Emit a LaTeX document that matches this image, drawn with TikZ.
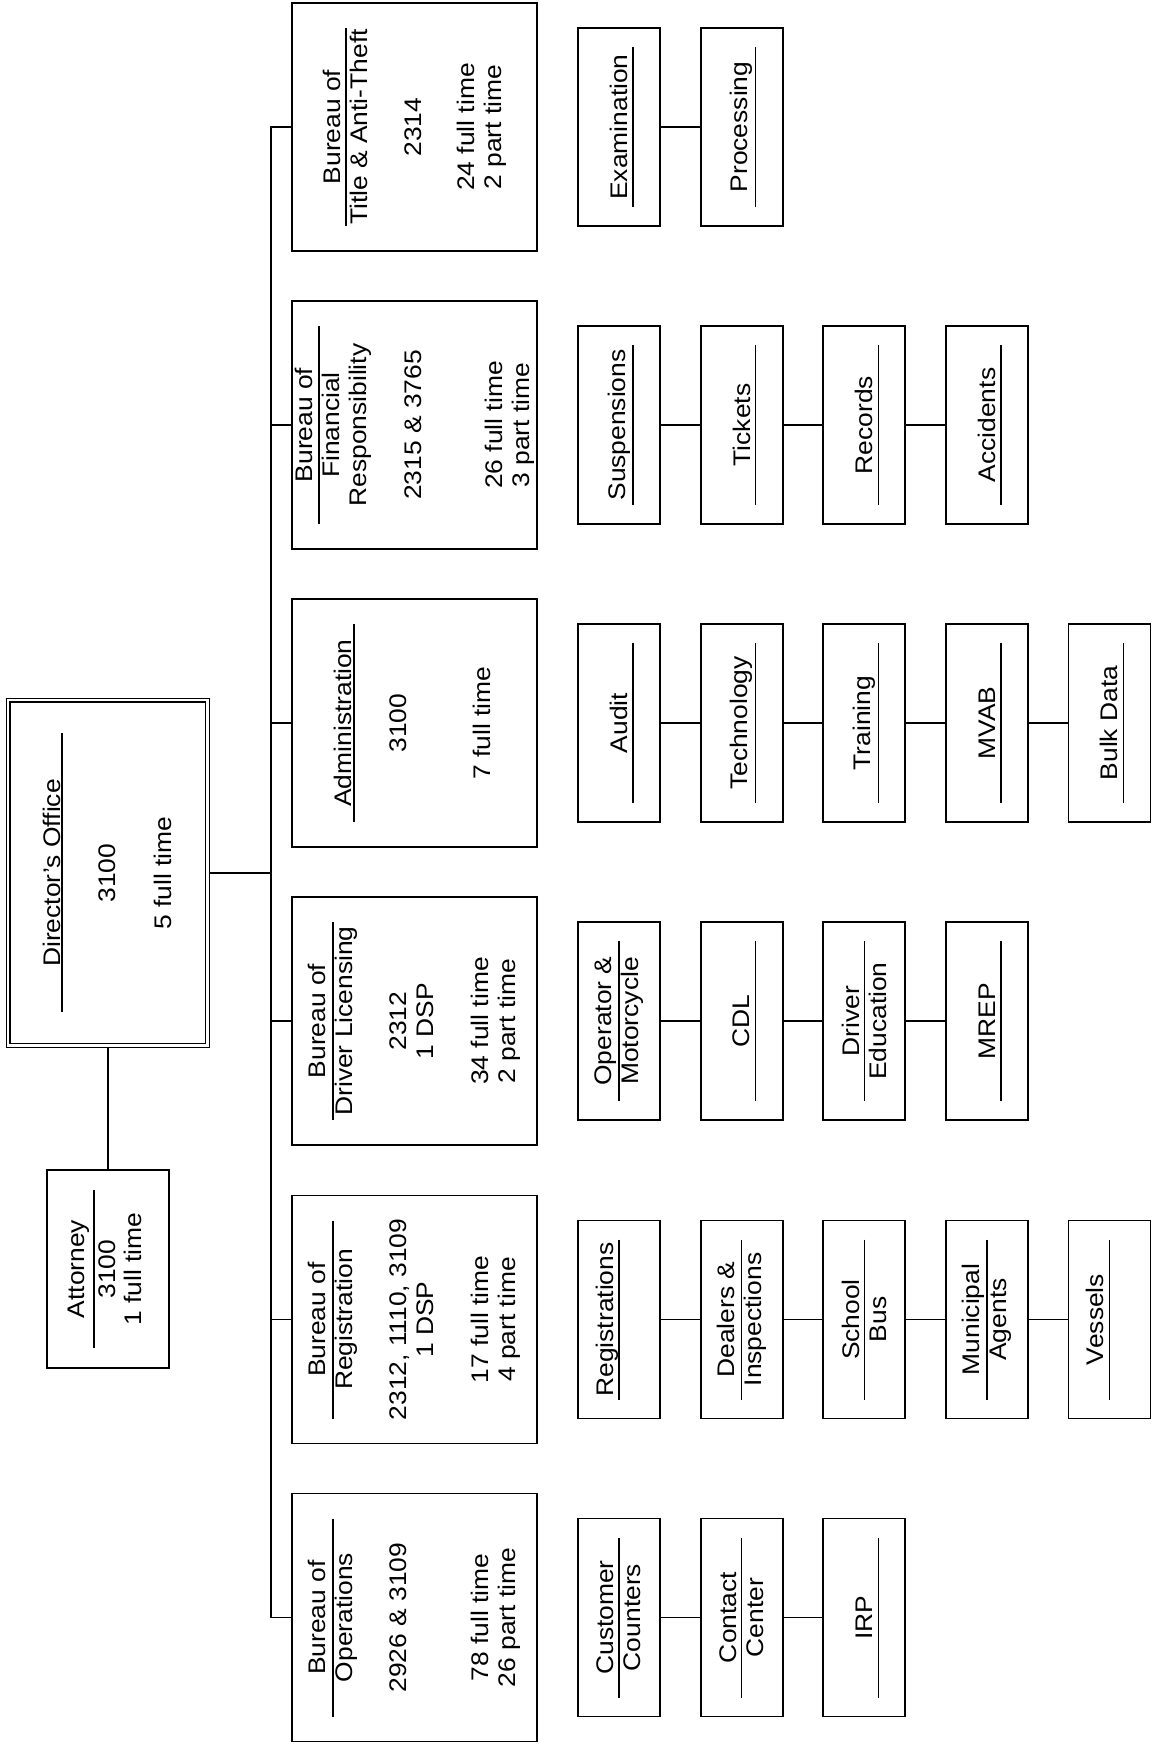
\documentclass[tikz,border=0pt]{standalone}
\usepackage{fontspec}
\setmainfont[FakeStretch=1.1]{Liberation Sans}
\usetikzlibrary{calc}

\begin{document}
\begin{tikzpicture}[
    x=0.5pt, y=-0.5pt,
    bureau/.style={draw, line width=0.9pt, minimum width=122.5pt, minimum height=124pt},
    unitbox/.style={draw, line width=0.9pt, minimum width=41pt, minimum height=99pt},
    txt/.style={rotate=90, align=center, inner sep=0pt, font=\fontsize{12}{13.5}\selectfont},
    divider/.style={line width=0.7pt},
    link/.style={line width=0.9pt}
]
    \useasboundingbox (0,0) rectangle (1152,1747);

    % Director and attorney
    \node[draw, double, line width=0.6pt, double distance=1.3pt, outer sep=1.3pt,
          minimum width=99.75pt, minimum height=172.75pt] (director) at (107.75,872.75) {};
    \node[txt] at (52,873) {Director’s Office};
    \draw[divider] (62,733) -- (62,1012);
    \node[txt] at (107,873) {3100};
    \node[txt] at (163,873) {5 full time};

    \node[draw, line width=0.9pt, minimum width=61pt, minimum height=99pt] (attorney) at (108,1269) {};
    \node[txt] at (79,1269) {Attorney};
    \draw[divider] (94,1190) -- (94,1348);
    \node[txt] at (107,1269) {3100};
    \node[txt] at (133,1269) {1 full time};

    % Bureaus
    \node[bureau] (title) at (414.5,127) {};
    \node[txt] at (345,127) {Bureau of\\Title \& Anti-Theft};
    \draw[divider] (346,28) -- (346,226);
    \node[txt] at (413,127) {2314};
    \node[txt] at (481.5,127) {24 full time\\2 part time};

    \node[bureau] (finresp) at (414.5,425) {};
    \node[txt] at (333,425) {Bureau of\\Financial\\Responsibility};
    \draw[divider] (319,326) -- (319,524);
    \node[txt] at (413,425) {2315 \& 3765};
    \node[txt] at (510,425) {26 full time\\3 part time};

    \node[bureau] (admin) at (414.5,723) {};
    \node[txt] at (343,723) {Administration};
    \draw[divider] (354,624) -- (354,822);
    \node[txt] at (398,723) {3100};
    \node[txt] at (482,723) {7 full time};

    \node[bureau] (driver) at (414.5,1021) {};
    \node[txt] at (332.5,1021) {Bureau of\\Driver Licensing};
    \draw[divider] (333,922) -- (333,1120);
    \node[txt] at (411.5,1021) {2312\\1 DSP};
    \node[txt] at (495.5,1021) {34 full time\\2 part time};

    \node[bureau] (regis) at (414.5,1319.5) {};
    \node[txt] at (332.5,1319.5) {Bureau of\\Registration};
    \draw[divider] (333,1220.5) -- (333,1418.5);
    \node[txt] at (411.5,1319.5) {2312, 1110, 3109\\1 DSP};
    \node[txt] at (495.5,1319.5) {17 full time\\4 part time};

    \node[bureau] (opers) at (414.5,1617.5) {};
    \node[txt] at (332.5,1617.5) {Bureau of\\Operations};
    \draw[divider] (333,1518.5) -- (333,1716.5);
    \node[txt] at (398,1617.5) {2926 \& 3109};
    \node[txt] at (495.5,1617.5) {78 full time\\26 part time};

    % Trunk
    \coordinate (trunk) at (271,872.75);
    \draw[link] (director.east) -- (trunk);
    \foreach \b in {title, finresp, admin, driver, regis, opers}
        \draw[link] (trunk) |- (\b.west);
    \draw[link] (attorney.north) -- (attorney.north |- director.south);

    % Sections (text / text shift / divider shift)
    \foreach \r/\y/\list in {
        title/127/{Examination/0/14, Processing/0/14},
        finresp/425/{Suspensions/0/14, Tickets/0/14, Records/0/14, Accidents/0/14},
        admin/723/{Audit/0/14, Technology/0/14, Training/0/14, MVAB/0/14, Bulk Data/0/14},
        driver/1021/{Operator \&\\Motorcycle/0/0, CDL/0/14, Driver\\Education/0/0, MREP/0/14},
        regis/1319.5/{Registrations/-12/0, Dealers \&\\Inspections/0/0, School\\Bus/0/0, Municipal\\Agents/0/0, Vessels/-14/0},
        opers/1617.5/{Customer\\Counters/0/0, Contact\\Center/0/0, IRP/0/14}} {
        \foreach \txt/\tx/\lx [count=\i] in \list {
            \node[unitbox] (\r-\i) at (496.4+122.6*\i,\y) {};
            \node[txt] at ($(\r-\i)+(\tx,0)$) {\txt};
            \draw[divider] ($(\r-\i)+(\lx,-80)$) -- ($(\r-\i)+(\lx,80)$);
        }
    }
    \foreach \r/\n in {title/2, finresp/4, admin/5, driver/4, regis/5, opers/3}
        \foreach \i in {2,...,\n} {
            \pgfmathtruncatemacro\j{\i-1}
            \draw[link] (\r-\j) -- (\r-\i);
        }
\end{tikzpicture}
\end{document}
